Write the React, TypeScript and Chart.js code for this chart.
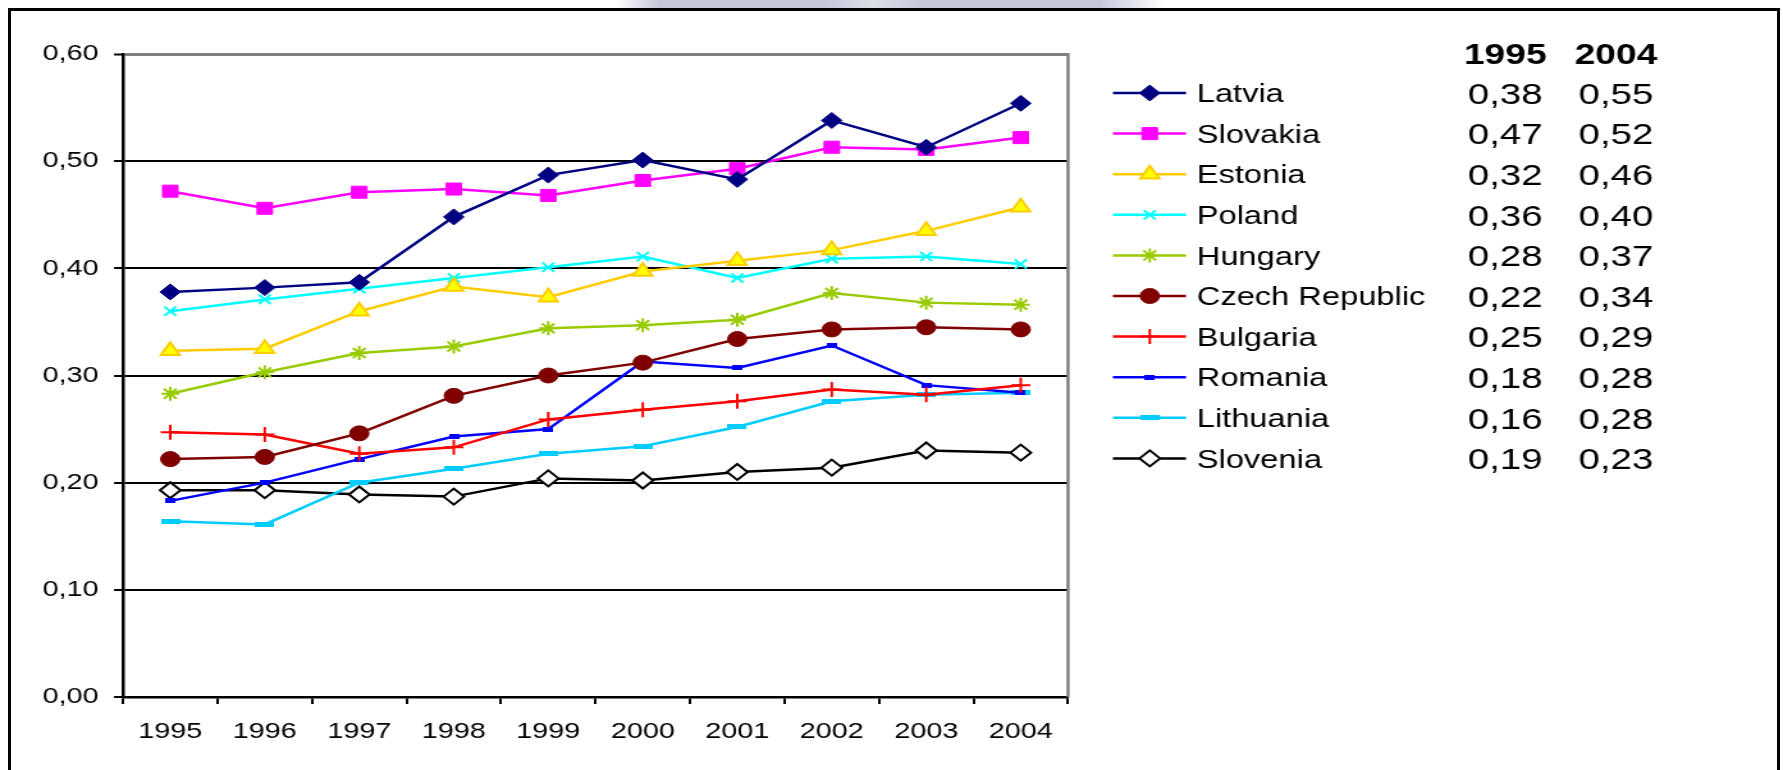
import React, { useEffect, useRef } from 'react';
import { Chart, registerables, PointElement } from 'chart.js';

Chart.register(...registerables);

// ---------- data ----------
const years = ['1995', '1996', '1997', '1998', '1999', '2000', '2001', '2002', '2003', '2004'];
const countries = ['Latvia', 'Slovakia', 'Estonia', 'Poland', 'Hungary', 'Czech Republic', 'Bulgaria', 'Romania', 'Lithuania', 'Slovenia'];

const latvia = [0.378, 0.382, 0.387, 0.448, 0.487, 0.501, 0.483, 0.538, 0.513, 0.554];
const slovakia = [0.472, 0.456, 0.471, 0.474, 0.468, 0.482, 0.493, 0.513, 0.511, 0.522];
const estonia = [0.323, 0.325, 0.360, 0.383, 0.373, 0.397, 0.407, 0.417, 0.435, 0.457];
const poland = [0.360, 0.371, 0.381, 0.391, 0.401, 0.411, 0.391, 0.409, 0.411, 0.404];
const hungary = [0.283, 0.303, 0.321, 0.327, 0.344, 0.347, 0.352, 0.377, 0.368, 0.366];
const czech = [0.222, 0.224, 0.246, 0.281, 0.300, 0.312, 0.334, 0.343, 0.345, 0.343];
const bulgaria = [0.247, 0.245, 0.227, 0.233, 0.259, 0.268, 0.276, 0.287, 0.282, 0.291];
const romania = [0.183, 0.200, 0.222, 0.243, 0.250, 0.313, 0.307, 0.328, 0.291, 0.284];
const lithuania = [0.164, 0.161, 0.200, 0.213, 0.227, 0.234, 0.252, 0.276, 0.282, 0.284];
const slovenia = [0.193, 0.193, 0.189, 0.187, 0.204, 0.202, 0.210, 0.214, 0.230, 0.228];

const tableHeaders = ['1995', '2004'];
const yMin = 0;
const yMax = 0.6;
const yStep = 0.1;

// ---------- layout (logical canvas units, canvas is stretched horizontally) ----------
const FULL_W = 1783;
const FULL_H = 770;
const LOGICAL_W = 1393;
const STRETCH = FULL_W / LOGICAL_W;
const FONT = '"Liberation Sans", Arial, Helvetica, sans-serif';

const fmt = (v: number) => v.toFixed(2).replace('.', ',');

function makeDash(w: number, h: number, color: string) {
  const c = document.createElement('canvas');
  c.width = w;
  c.height = h;
  const g = c.getContext('2d')!;
  g.fillStyle = color;
  g.fillRect(0, 0, w, h);
  return c;
}

const legendPlugin = {
  id: 'sideTable',
  afterDraw(chart: any) {
    const ctx = chart.ctx as CanvasRenderingContext2D;
    const area = chart.chartArea;
    ctx.save();
    // gray right border of plot area
    ctx.strokeStyle = '#808080';
    ctx.lineWidth = 2.5;
    ctx.beginPath();
    ctx.moveTo(area.right, area.top - 1);
    ctx.lineTo(area.right, area.bottom);
    ctx.stroke();

    const col1 = 1176;
    const col2 = 1262.5;
    const headerY = 54;
    const rowY0 = 93;
    const rowStep = 40.6;
    const lineX0 = 869.5;
    const lineX1 = 926.6;
    const markerX = 898.3;
    const labelX = 935;

    ctx.fillStyle = '#000';
    ctx.textAlign = 'center';
    ctx.textBaseline = 'alphabetic';
    ctx.font = `bold 29px ${FONT}`;
    ctx.fillText(tableHeaders[0], col1, headerY + 0.358 * 29);
    ctx.fillText(tableHeaders[1], col2, headerY + 0.358 * 29);

    chart.data.datasets.forEach((ds: any, i: number) => {
      const y = rowY0 + i * rowStep;
      ctx.strokeStyle = ds.borderColor;
      ctx.lineWidth = 2.5;
      ctx.beginPath();
      ctx.moveTo(lineX0, y);
      ctx.lineTo(lineX1, y);
      ctx.stroke();
      const meta = chart.getDatasetMeta(i);
      const el = meta.data[0];
      if (el) {
        const p = new PointElement({ x: markerX, y, options: el.options, skip: false } as any);
        p.draw(ctx, { left: 0, top: 0, right: chart.width, bottom: chart.height } as any);
      }
      ctx.fillStyle = '#000';
      ctx.textAlign = 'left';
      ctx.font = `25.5px ${FONT}`;
      ctx.fillText(ds.label, labelX, y + 0.358 * 25.5);
      ctx.textAlign = 'center';
      ctx.font = `30px ${FONT}`;
      const d = ds.data as number[];
      ctx.fillText(fmt(d[0]), col1, y + 0.358 * 30);
      ctx.fillText(fmt(d[d.length - 1]), col2, y + 0.358 * 30);
    });
    ctx.restore();
  },
};

export default function App() {
  const canvasRef = useRef<HTMLCanvasElement | null>(null);

  useEffect(() => {
    document.body.style.margin = '0';
    const canvas = canvasRef.current;
    if (!canvas) return;
    Chart.defaults.font.family = FONT;

    const romaniaMark = makeDash(8, 5, '#0000FF');
    const lithuaniaMark = makeDash(15, 5, '#00CCFF');

    const seriesValues = [latvia, slovakia, estonia, poland, hungary, czech, bulgaria, romania, lithuania, slovenia];
    const styles: any[] = [
      { borderColor: '#000080', backgroundColor: '#000080', pointStyle: 'rectRot', pointRadius: 8, pointBorderWidth: 1 },
      { borderColor: '#FF00FF', backgroundColor: '#FF00FF', pointStyle: 'rect', pointRadius: 8.5, pointBorderWidth: 1 },
      { borderColor: '#FFCC00', backgroundColor: '#FFFF00', pointStyle: 'triangle', pointRadius: 8.5, pointBorderWidth: 2 },
      { borderColor: '#00FFFF', backgroundColor: '#00FFFF', pointStyle: 'crossRot', pointRadius: 6.5, pointBorderWidth: 2 },
      { borderColor: '#99CC00', backgroundColor: '#99CC00', pointStyle: 'star', pointRadius: 7, pointBorderWidth: 2 },
      { borderColor: '#800000', backgroundColor: '#800000', pointStyle: 'circle', pointRadius: 7.5, pointBorderWidth: 1 },
      { borderColor: '#FF0000', backgroundColor: '#FF0000', pointStyle: 'cross', pointRadius: 7.5, pointBorderWidth: 2 },
      { borderColor: '#0000FF', backgroundColor: '#0000FF', pointStyle: romaniaMark, pointRadius: 5, pointBorderWidth: 0 },
      { borderColor: '#00CCFF', backgroundColor: '#00CCFF', pointStyle: lithuaniaMark, pointRadius: 5, pointBorderWidth: 0 },
      { borderColor: '#000000', backgroundColor: '#FFFFFF', pointStyle: 'rectRot', pointRadius: 8, pointBorderWidth: 2 },
    ];

    const datasets = countries.map((name, i) => ({
      label: name,
      data: seriesValues[i],
      borderWidth: 2.5,
      tension: 0,
      fill: false,
      pointBorderColor: styles[i].borderColor,
      pointBackgroundColor: styles[i].backgroundColor,
      ...styles[i],
    }));

    const chart = new Chart(canvas, {
      type: 'line',
      data: { labels: years, datasets },
      options: {
        animation: false,
        responsive: false,
        devicePixelRatio: 1,
        events: [],
        layout: { padding: { left: 0, top: 54, right: LOGICAL_W - 834.4, bottom: 0 } },
        plugins: { legend: { display: false }, tooltip: { enabled: false }, title: { display: false } },
        scales: {
          x: {
            type: 'category',
            offset: true,
            grid: {
              offset: true,
              drawOnChartArea: false,
              drawTicks: true,
              tickLength: 7,
              color: '#000',
              tickColor: '#000',
              tickWidth: 2,
              lineWidth: 2,
            },
            border: { display: true, color: '#000', width: 2.5 },
            ticks: { color: '#000', font: { size: 22.5, family: FONT }, padding: 14, maxRotation: 0, autoSkip: false },
            afterFit: (scale: any) => { scale.height = FULL_H - 697; },
          },
          y: {
            min: yMin,
            max: yMax,
            grid: {
              color: (c: any) => (c.tick && Math.abs(c.tick.value - yMax) < 1e-9 ? '#808080' : '#000'),
              lineWidth: (c: any) => (c.tick && Math.abs(c.tick.value - yMax) < 1e-9 ? 3 : 2),
              tickColor: '#000',
              tickWidth: 2,
              tickLength: 7,
              drawTicks: true,
            },
            border: { display: true, color: '#000', width: 2.5 },
            ticks: {
              stepSize: yStep,
              color: '#000',
              font: { size: 22.5, family: FONT },
              padding: 12,
              callback: (v: any) => fmt(Number(v)),
            },
            afterFit: (scale: any) => { scale.width = 96.1; },
          },
        },
      },
      plugins: [legendPlugin],
    });

    return () => chart.destroy();
  }, []);

  return (
    <div style={{ position: 'fixed', left: 0, top: 0, width: FULL_W, height: FULL_H, overflow: 'hidden', background: '#fff' }}>
      <div
        style={{
          position: 'absolute',
          left: 615,
          top: 0,
          width: 550,
          height: 8,
          background:
            'linear-gradient(to right, #ffffff 0%, #c5c8d8 8%, #c5c8d8 38%, #dcdee6 47%, #c5c8d8 56%, #c5c8d8 88%, #ffffff 100%)',
        }}
      />
      <div
        style={{
          position: 'absolute',
          left: 0,
          top: 0,
          width: LOGICAL_W,
          height: FULL_H,
          transform: `scaleX(${STRETCH})`,
          transformOrigin: '0 0',
        }}
      >
        <canvas ref={canvasRef} width={LOGICAL_W} height={FULL_H} style={{ display: 'block', width: LOGICAL_W, height: FULL_H }} />
      </div>
      <div
        style={{
          position: 'absolute',
          left: 8,
          top: 8,
          width: 1772,
          height: 900,
          border: '3px solid #000',
          boxSizing: 'border-box',
        }}
      />
    </div>
  );
}
